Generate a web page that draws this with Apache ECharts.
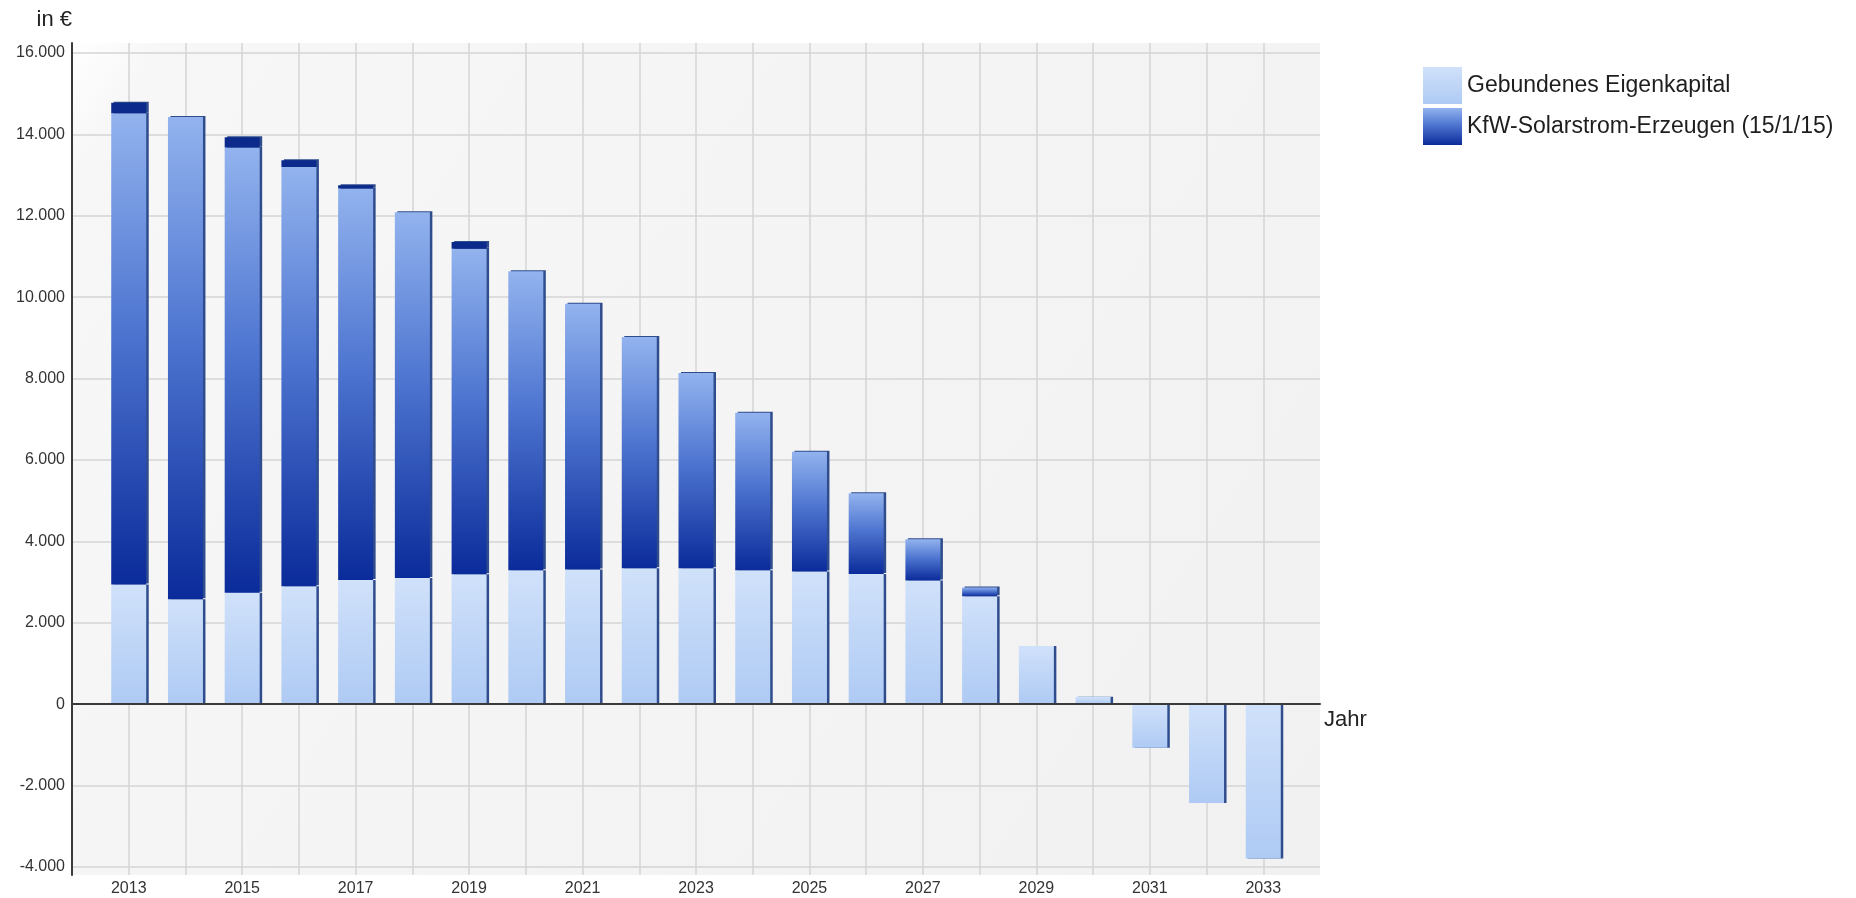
<!DOCTYPE html>
<html>
<head>
<meta charset="utf-8">
<script src="https://cdn.jsdelivr.net/npm/echarts@6/dist/echarts.min.js"></script>
<style>
  html, body { margin: 0; padding: 0; background: #ffffff; }
  #chart { width: 1856px; height: 898px; }
</style>
</head>
<body>
<div id="chart"></div>
<script>
// Jahre der Betrachtung
const years = [2013, 2014, 2015, 2016, 2017, 2018, 2019, 2020, 2021, 2022, 2023,
               2024, 2025, 2026, 2027, 2028, 2029, 2030, 2031, 2032, 2033];

// Gebundenes Eigenkapital (in €)
const eigenkapital = [2940, 2580, 2740, 2900, 3050, 3100, 3190, 3290, 3310, 3340, 3340,
                      3290, 3260, 3200, 3040, 2650, 1430, 180, -1070, -2430, -3790];

// KfW-Darlehen, Restschuld (in €)
const kfwRestschuld = [11580, 11850, 10940, 10300, 9620, 8990, 8000, 7350, 6530, 5680, 4800,
                       3870, 2940, 1980, 1010, 220, 0, 0, 0, 0, 0];

// KfW-Darlehen, zusätzlicher Anteil oben auf dem Balken (in €)
const kfwSpitze = [260, 0, 250, 165, 80, 0, 165, 0, 0, 0, 0,
                   0, 0, 0, 0, 0, 0, 0, 0, 0, 0];

const seriesNames = ['Gebundenes Eigenkapital', 'KfW-Solarstrom-Erzeugen (15/1/15)'];

// Achse läuft ein Jahr vor und nach dem Zeitraum
const yearMin = years[0] - 1, yearMax = years[years.length - 1] + 1;
const axisYears = [yearMin, ...years, yearMax].map(String);

const yMin = -4000, yMax = 16000, yStep = 2000;

const FONT = 'Liberation Sans, Arial, sans-serif';

function formatDe(v) {
  const s = String(Math.abs(v)).replace(/\B(?=(\d{3})+(?!\d))/g, '.');
  return (v < 0 ? '-' : '') + s;
}

function pairs(values) {
  return years.map((y, i) => [String(y), values[i]]);
}

const grad = (stops) => new echarts.graphic.LinearGradient(0, 0, 0, 1,
  stops.map(([o, c]) => ({ offset: o, color: c })));

const lightFill = grad([[0, '#d0e1fa'], [1, '#aecaf4']]);
const kfwFill = grad([[0, '#92b3ee'], [0.45, '#4f76d1'], [1, '#0a2b9a']]);
const capFill = '#0b2a8c';
const edge = '#2f4c8c';

const chart = echarts.init(document.getElementById('chart'), null, { renderer: 'canvas' });

chart.setOption({
  animation: false,
  textStyle: { fontFamily: FONT },
  grid: [
    { // Rahmen mit Hintergrund, Jahres-Gitterlinien und Jahreszahlen
      left: 72, width: 1248, top: 43, height: 832,
      show: true, borderWidth: 0,
      backgroundColor: new echarts.graphic.LinearGradient(0, 0, 1, 1, [
        { offset: 0, color: '#ffffff' },
        { offset: 0.05, color: '#f7f7f7' },
        { offset: 1, color: '#f1f1f1' }
      ])
    },
    { // Wertebereich
      left: 72, width: 1248, top: 53, height: 814
    }
  ],
  legend: {
    orient: 'vertical',
    left: 1423, top: 67, padding: 0,
    itemGap: 4, itemWidth: 39, itemHeight: 37,
    icon: 'rect',
    data: seriesNames,
    textStyle: { fontSize: 23, color: '#1e1e1e', fontFamily: FONT }
  },
  xAxis: [
    {
      type: 'value', gridIndex: 0,
      min: yearMin, max: yearMax, interval: 1,
      axisLine: { show: false },
      axisTick: { show: false },
      splitLine: { show: true, showMaxLine: false, lineStyle: { color: '#d5d5d5', width: 1.5 } },
      axisLabel: {
        margin: 6, fontSize: 16, color: '#333', fontFamily: FONT,
        formatter: (v) => (v % 2 === 1 ? String(v) : '')
      }
    },
    {
      type: 'category', gridIndex: 1,
      data: axisYears, boundaryGap: false,
      z: 5,
      axisLine: { show: true, onZero: true, lineStyle: { color: '#3a3a3a', width: 2 } },
      axisTick: { show: false },
      axisLabel: { show: false },
      splitLine: { show: false },
      name: 'Jahr', nameLocation: 'end', nameGap: 4,
      nameTextStyle: { fontSize: 22, color: '#222', fontFamily: FONT, verticalAlign: 'top', padding: [5, 0, 0, 0] }
    }
  ],
  yAxis: [
    {
      type: 'value', gridIndex: 0, min: 0, max: 1,
      axisLine: { show: true, lineStyle: { color: '#3a3a3a', width: 2 } },
      axisTick: { show: false },
      axisLabel: { show: false },
      splitLine: { show: false }
    },
    {
      type: 'value', gridIndex: 1,
      min: yMin, max: yMax, interval: yStep,
      axisLine: { show: false },
      axisTick: { show: false },
      splitLine: { show: true, lineStyle: { color: '#d5d5d5', width: 1.5 } },
      axisLabel: { margin: 7, fontSize: 16, color: '#333', fontFamily: FONT, formatter: formatDe },
      name: 'in €', nameLocation: 'end', nameGap: 22,
      nameTextStyle: { fontSize: 22, color: '#222', fontFamily: FONT, align: 'right' }
    }
  ],
  series: [
    {
      name: seriesNames[0], type: 'bar', stack: 'summe',
      xAxisIndex: 1, yAxisIndex: 1, barWidth: 35,
      data: pairs(eigenkapital),
      itemStyle: { color: lightFill, shadowColor: edge, shadowOffsetX: 2.5, shadowOffsetY: 0, shadowBlur: 0 }
    },
    {
      name: seriesNames[1], type: 'bar', stack: 'summe',
      xAxisIndex: 1, yAxisIndex: 1, barWidth: 35,
      data: pairs(kfwRestschuld),
      itemStyle: { color: kfwFill, shadowColor: edge, shadowOffsetX: 2.5, shadowOffsetY: -1, shadowBlur: 0 }
    },
    {
      name: seriesNames[1], type: 'bar', stack: 'summe',
      xAxisIndex: 1, yAxisIndex: 1, barWidth: 35,
      data: pairs(kfwSpitze),
      itemStyle: { color: capFill, shadowColor: edge, shadowOffsetX: 2.5, shadowOffsetY: -1, shadowBlur: 0 }
    }
  ]
});
</script>
</body>
</html>
